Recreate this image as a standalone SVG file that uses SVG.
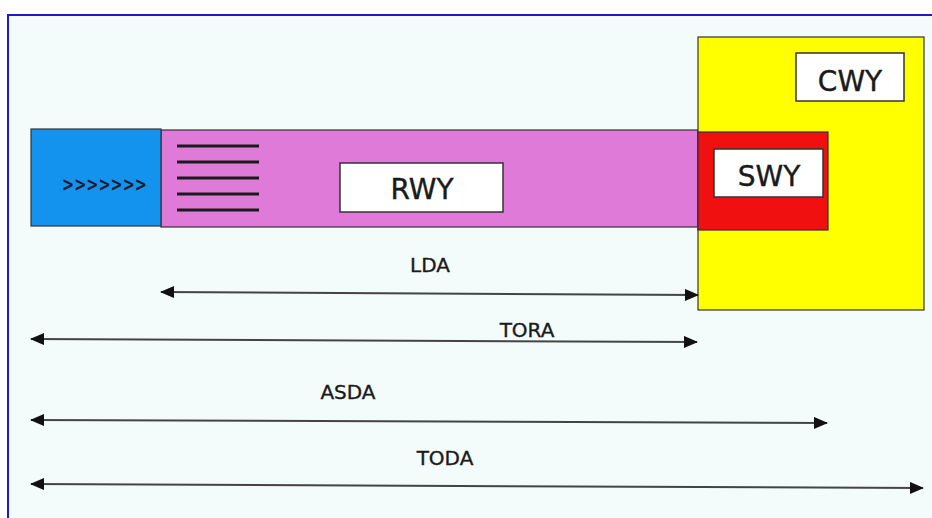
<svg xmlns="http://www.w3.org/2000/svg" width="932" height="518" viewBox="0 0 932 518">
  <defs>
    <marker id="head" viewBox="0 0 14 12" refX="13" refY="6" markerWidth="14" markerHeight="12" markerUnits="userSpaceOnUse" orient="auto-start-reverse">
      <path d="M0,0 L14,6 L0,12 Z" fill="#111"/>
    </marker>
  </defs>
  <style>
    .area { stroke: #333; stroke-width: 1.2; }
    .box { fill: #ffffff; stroke: #333; stroke-width: 1.5; }
    .name { font-family: "DejaVu Sans", Verdana, sans-serif; font-size: 28px; fill: #1a1a1a; text-anchor: middle; stroke: #1a1a1a; stroke-width: 0.4; }
    .dim { font-family: "DejaVu Sans", Verdana, sans-serif; font-size: 20px; fill: #1a1a1a; text-anchor: middle; stroke: #1a1a1a; stroke-width: 0.35; }
    .arrow { stroke: #444; stroke-width: 2; fill: none; marker-start: url(#head); marker-end: url(#head); }
    .bar { stroke: #1a1a1a; stroke-width: 3; }
  </style>

  <!-- page background and frame -->
  <rect x="0" y="0" width="932" height="518" fill="#ffffff"/>
  <rect x="8" y="15" width="924" height="503" fill="#f4fbfb"/>
  <path d="M8,518 L8,15 L932,15" fill="none" stroke="#1c1cc8" stroke-width="2"/>

  <!-- runway -->
  <g id="rwy">
    <rect class="area" x="161" y="130" width="537" height="97" fill="#e07ad8"/>
    <g id="threshold">
      <line class="bar" x1="177" y1="146" x2="259" y2="146"/>
      <line class="bar" x1="177" y1="162" x2="259" y2="162"/>
      <line class="bar" x1="177" y1="178" x2="259" y2="178"/>
      <line class="bar" x1="177" y1="194" x2="259" y2="194"/>
      <line class="bar" x1="177" y1="210" x2="259" y2="210"/>
    </g>
    <rect class="box" x="340" y="163" width="163" height="49"/>
    <text class="name" x="422" y="199">RWY</text>
  </g>

  <!-- blast pad before the threshold -->
  <g id="pad">
    <rect class="area" x="31" y="129" width="130" height="97" fill="#1393ee"/>
    <text x="62" y="191" font-family="DejaVu Sans, sans-serif" font-size="20" font-weight="bold" fill="#1a1a2a" textLength="85" lengthAdjust="spacingAndGlyphs">&gt;&gt;&gt;&gt;&gt;&gt;&gt;</text>
  </g>

  <!-- clearway -->
  <g id="cwy">
    <rect class="area" x="698" y="37" width="226" height="273" fill="#ffff00"/>
    <rect class="box" x="796" y="53" width="108" height="48"/>
    <text class="name" x="850" y="91">CWY</text>
  </g>

  <!-- stopway -->
  <g id="swy">
    <rect class="area" x="698" y="132" width="130" height="98" fill="#f01010"/>
    <rect class="box" x="714" y="149" width="109" height="48"/>
    <text class="name" x="769" y="186">SWY</text>
  </g>

  <!-- declared distances -->
  <g id="connectors">
    <line class="arrow" x1="161" y1="292" x2="698" y2="295"/>
    <line class="arrow" x1="31" y1="339" x2="697" y2="342"/>
    <line class="arrow" x1="31" y1="420" x2="827" y2="423"/>
    <line class="arrow" x1="31" y1="484" x2="923" y2="488"/>
  </g>
  <g id="labels">
    <text class="dim" x="430" y="272">LDA</text>
    <text class="dim" x="527" y="337">TORA</text>
    <text class="dim" x="348" y="399">ASDA</text>
    <text class="dim" x="445" y="465">TODA</text>
  </g>
</svg>
